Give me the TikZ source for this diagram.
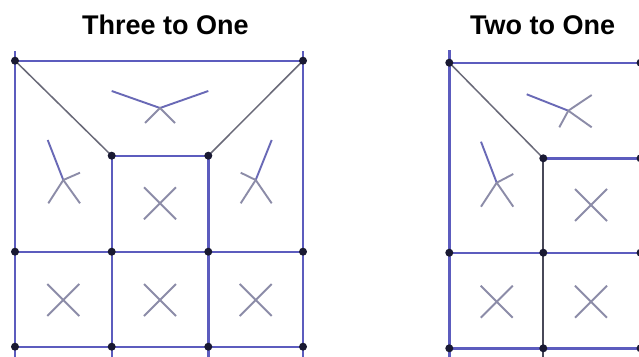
\documentclass[tikz,border=0pt]{standalone}
\usepackage{fontspec}
\setmainfont{Liberation Sans}
\usetikzlibrary{calc}
\definecolor{blueline}{RGB}{92,92,190}
\definecolor{darkline}{RGB}{72,72,88}
\definecolor{diagline}{RGB}{105,105,120}
\definecolor{xgray}{RGB}{140,140,168}
\definecolor{xblue}{RGB}{105,105,182}
\definecolor{dotc}{RGB}{25,25,50}
\tikzset{
  edge/.style={draw=blueline,line width=2.4pt},
  darkedge/.style={draw=darkline,line width=2pt},
  diag/.style={draw=diagline,line width=1.5pt},
  xmark/.style={draw=xgray,line width=1.9pt},
  xlong/.style={draw=xblue,line width=1.9pt},
  ttl/.style={font=\bfseries\fontsize{27}{30}\selectfont,anchor=base west,inner sep=0pt}
}
\begin{document}
\begin{tikzpicture}[x=1pt,y=-1pt]
\useasboundingbox (0,0) rectangle (639,356);
\clip (0,0) rectangle (639,356);
\fill[white] (0,0) rectangle (639,356);
% titles
\node[ttl] (t1) at (82,34) {Three to One};
\node[ttl] (t2) at (470,34) {Two to One};
% ---------- left figure ----------
\coordinate (L1) at (15,60.7);   \coordinate (L2) at (303,60.7);
\coordinate (L3) at (111.7,155.7); \coordinate (L4) at (208.3,155.7);
\coordinate (L5) at (15,251.7);  \coordinate (L6) at (111.7,251.7);
\coordinate (L7) at (208.3,251.7); \coordinate (L8) at (303,251.7);
\coordinate (L9) at (15,346.7);  \coordinate (L10) at (111.7,346.7);
\coordinate (L11) at (208.3,346.7); \coordinate (L12) at (303,346.7);
\coordinate (Lt1) at (15,51); \coordinate (Lt2) at (303,51);
\coordinate (Lb1) at (15,358); \coordinate (Lb2) at (111.7,358);
\coordinate (Lb3) at (208.3,358); \coordinate (Lb4) at (303,358);
\draw[edge] (Lt1) -- (Lb1);
\draw[edge] (Lt2) -- (Lb4);
\draw[edge] (L3) -- (Lb2);
\draw[edge] (L4) -- (Lb3);
\draw[edge] (L1) -- (L2);
\draw[edge] (L3) -- (L4);
\draw[edge] (L5) -- (L8);
\draw[edge] (L9) -- (L12);
\draw[diag] (L1) -- (L3);
\draw[diag] (L2) -- (L4);
% X marks left
\coordinate (xa) at (160,108);
\draw[xlong] (111.7,91) -- (xa) -- (208.3,91);
\draw[xmark] (145,123) -- (xa) -- (175,123);
\coordinate (xb) at (63.3,180);
\draw[xlong] (47.7,140) -- (xb);
\draw[xmark] (xb) -- (80,203.3);
\draw[xmark] (48.3,203.3) -- (xb) -- (80,172.7);
\coordinate (xc) at (255.7,180);
\draw[xlong] (271.7,140) -- (xc);
\draw[xmark] (xc) -- (240.7,203.3);
\draw[xmark] (271.7,203.3) -- (xc) -- (240.7,172.7);
\coordinate (xd) at (160,203.3);
\coordinate (xe) at (63.3,300);
\coordinate (xf) at (160,300);
\coordinate (xg) at (255.7,300);
% ---------- right figure ----------
\coordinate (R1) at (449.3,62.7); \coordinate (R2) at (640.5,62.7);
\coordinate (R3) at (543.3,158.3); \coordinate (R4) at (640.5,158.3);
\coordinate (R5) at (449.3,252.7); \coordinate (R6) at (543.3,252.7);
\coordinate (R7) at (640.5,252.7);
\coordinate (R8) at (449.3,348.3); \coordinate (R9) at (543.3,348.3);
\coordinate (R10) at (640.5,348.3);
\coordinate (Rt1) at (449.3,50); \coordinate (Rb1) at (449.3,358);
\coordinate (Rb2) at (543.3,358);
\draw[edge] (Rt1) -- (Rb1);
\draw[darkedge] (R3) -- (Rb2);
\draw[edge] (R1) -- (R2);
\draw[edge] (R3) -- (R4);
\draw[edge] (R5) -- (R7);
\draw[edge] (R8) -- (R10);
\draw[diag] (R1) -- (R3);
\coordinate (ya) at (568.3,110.7);
\draw[xlong] (526.7,94.3) -- (ya);
\draw[xmark] (ya) -- (591.7,127.3);
\draw[xmark] (591.7,95) -- (ya) -- (559.3,127.3);
\coordinate (yb) at (496.7,182.7);
\draw[xlong] (481,141.7) -- (yb);
\draw[xmark] (yb) -- (513.3,206.7);
\draw[xmark] (481,206.7) -- (yb) -- (513.3,174);
\coordinate (yc) at (591,205);
\coordinate (yd) at (496.7,301.7);
\coordinate (ye) at (591,301.7);
\foreach \n in {xd,xe,xf,xg,yc,yd,ye}{
  \draw[xmark] ($(\n)+(-16,-16)$) -- ($(\n)+(16,16)$);
  \draw[xmark] ($(\n)+(-16,16)$) -- ($(\n)+(16,-16)$);
}
\foreach \c in {L1,L2,L3,L4,L5,L6,L7,L8,L9,L10,L11,L12,R1,R2,R3,R4,R5,R6,R7,R8,R9,R10}{\fill[dotc] (\c) circle (4);}
\end{tikzpicture}
\end{document}
